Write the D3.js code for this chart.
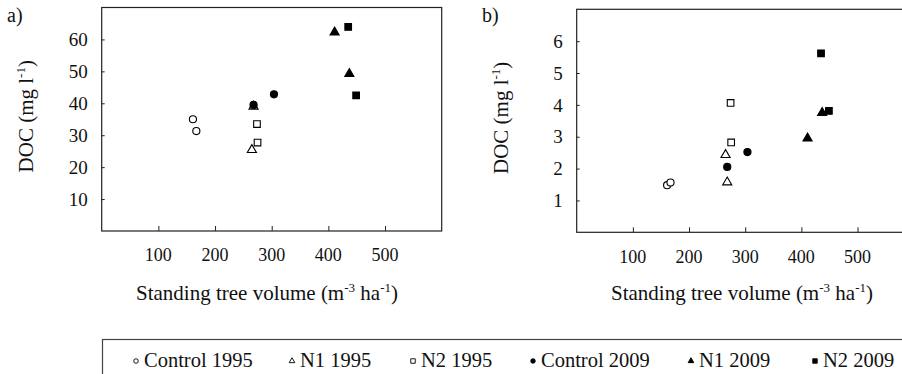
<!DOCTYPE html>
<html>
<head>
<meta charset="utf-8">
<script src="https://cdn.jsdelivr.net/npm/d3@7"></script>
<style>
  body { margin: 0; background: #fff; }
  svg { display: block; }
  svg text { font-family: "Liberation Serif", "DejaVu Serif", serif; }
</style>
</head>
<body>
<svg id="chart" width="902" height="374"></svg>
<script>
// series definitions (legend order)
const seriesNames = ["Control 1995", "N1 1995", "N2 1995", "Control 2009", "N1 2009", "N2 2009"];
const seriesShape = ["circle", "triangle", "square", "circle", "triangle", "square"];
const seriesFilled = [false, false, false, true, true, true];

// standing tree volume (m3 ha-1) per plot, by series
const volume = [
  [161, 167],
  [265, 268],
  [274, 275],
  [268, 304],
  [411, 437],
  [435, 449]
];

// panel a) DOC (mg l-1)
const docA = [
  [35.0, 31.3],
  [25.4, 39.0],
  [33.5, 27.7],
  [39.5, 42.8],
  [62.2, 49.2],
  [63.9, 42.5]
];

// panel b) DOC (mg l-1)
const docB = [
  [1.48, 1.56],
  [2.43, 1.57],
  [4.06, 2.82],
  [2.05, 2.52],
  [2.95, 3.75],
  [5.62, 3.81]
];

const xTicks = [100, 200, 300, 400, 500];
const yTicksA = [10, 20, 30, 40, 50, 60];
const yTicksB = [1, 2, 3, 4, 5, 6];

const svg = d3.select("#chart");

function symbolFor(shape, size) {
  const type = shape === "circle" ? d3.symbolCircle
    : shape === "triangle" ? d3.symbolTriangle : d3.symbolSquare;
  return d3.symbol().type(type).size(size)();
}

const markerSize = { circle: 40, triangle: 36, square: 44 };

// text with superscripts: parts = [[text, isSup], ...]
function richText(sel, parts, base) {
  const sup = Math.round(base * 0.62);
  const rise = Math.round(base * 0.38);
  parts.forEach(([t, isSup], k) => {
    const prevSup = k > 0 && parts[k - 1][1];
    const sp = sel.append("tspan").text(t);
    if (isSup) sp.attr("font-size", sup).attr("dy", -rise);
    else if (prevSup) sp.attr("dy", rise);
  });
}

function drawPanel(opts) {
  const { left, right, top, bottom, yMax, yTicks, values, label, labelX, titleX } = opts;
  const g = svg.append("g");

  const x = d3.scaleLinear().domain([0, 600]).range([left, right]);
  const y = d3.scaleLinear().domain([0, yMax]).range([bottom, top]);

  // frame
  g.append("rect")
    .attr("x", left).attr("y", top)
    .attr("width", right - left).attr("height", bottom - top)
    .attr("fill", "none").attr("stroke", "#222").attr("stroke-width", 1.2);

  // x ticks (inward)
  const xAxis = g.append("g")
    .attr("transform", `translate(0,${bottom})`)
    .call(d3.axisTop(x).tickValues(xTicks).tickSize(5).tickFormat(""));
  xAxis.select(".domain").remove();
  xAxis.selectAll("line").attr("stroke", "#222");

  g.selectAll(".xlab")
    .data(xTicks)
    .enter().append("text")
    .attr("x", d => x(d))
    .attr("y", bottom + 24)
    .attr("dy", "0.35em")
    .attr("text-anchor", "middle")
    .attr("font-size", 18)
    .attr("fill", "#111")
    .text(d => d);

  // y ticks (inward)
  const yAxis = g.append("g")
    .attr("transform", `translate(${left},0)`)
    .call(d3.axisRight(y).tickValues(yTicks).tickSize(3).tickFormat(""));
  yAxis.select(".domain").remove();
  yAxis.selectAll("line").attr("stroke", "#222");

  g.selectAll(".ylab")
    .data(yTicks)
    .enter().append("text")
    .attr("x", left - 14)
    .attr("y", d => y(d))
    .attr("dy", "0.35em")
    .attr("text-anchor", "end")
    .attr("font-size", 19)
    .attr("fill", "#111")
    .text(d => d);

  // axis titles
  const xt = g.append("text")
    .attr("x", titleX)
    .attr("y", 300)
    .attr("text-anchor", "middle")
    .attr("font-size", 21)
    .attr("fill", "#111");
  richText(xt, [["Standing tree volume (m", false], ["-3", true], [" ha", false], ["-1", true], [")", false]], 21);

  const yt = g.append("text")
    .attr("transform", `translate(${left - 69},${(top + bottom) / 2 - 3}) rotate(-90)`)
    .attr("text-anchor", "middle")
    .attr("font-size", 21)
    .attr("fill", "#111");
  richText(yt, [["DOC (mg l", false], ["-1", true], [")", false]], 21);

  g.append("text")
    .attr("x", labelX).attr("y", 15)
    .attr("dy", "0.35em")
    .attr("font-size", 20)
    .attr("fill", "#111")
    .text(label);

  // points
  seriesNames.forEach((name, i) => {
    const pts = volume[i].map((v, j) => [v, values[i][j]]);
    g.selectAll(null)
      .data(pts)
      .enter().append("path")
      .attr("d", symbolFor(seriesShape[i], markerSize[seriesShape[i]]))
      .attr("transform", d => `translate(${x(d[0])},${y(d[1])})`)
      .attr("fill", seriesFilled[i] ? "#000" : "#fff")
      .attr("stroke", "#000")
      .attr("stroke-width", 1.1);
  });
}

drawPanel({ left: 101.7, right: 441.7, top: 7.5, bottom: 231, yMax: 70,
  yTicks: yTicksA, values: docA, label: "a)", labelX: 7, titleX: 267 });
drawPanel({ left: 576.7, right: 913.7, top: 9.3, bottom: 232.3, yMax: 7,
  yTicks: yTicksB, values: docB, label: "b)", labelX: 482, titleX: 742 });

// legend
const legend = svg.append("g");
legend.append("rect")
  .attr("x", 102.5).attr("y", 339.5)
  .attr("width", 820).attr("height", 60)
  .attr("fill", "none").attr("stroke", "#444").attr("stroke-width", 1.2);

const legendX = [136, 292, 413, 533, 691, 815];
const legendSize = { circle: 16, triangle: 14, square: 20 };
seriesNames.forEach((name, i) => {
  legend.append("path")
    .attr("d", symbolFor(seriesShape[i], legendSize[seriesShape[i]]))
    .attr("transform", `translate(${legendX[i]},${361})`)
    .attr("fill", seriesFilled[i] ? "#000" : "#fff")
    .attr("stroke", "#000")
    .attr("stroke-width", 0.9);
  legend.append("text")
    .attr("x", legendX[i] + 8)
    .attr("y", 360)
    .attr("dy", "0.35em")
    .attr("font-size", 20.5)
    .attr("fill", "#111")
    .text(name);
});
</script>
</body>
</html>
